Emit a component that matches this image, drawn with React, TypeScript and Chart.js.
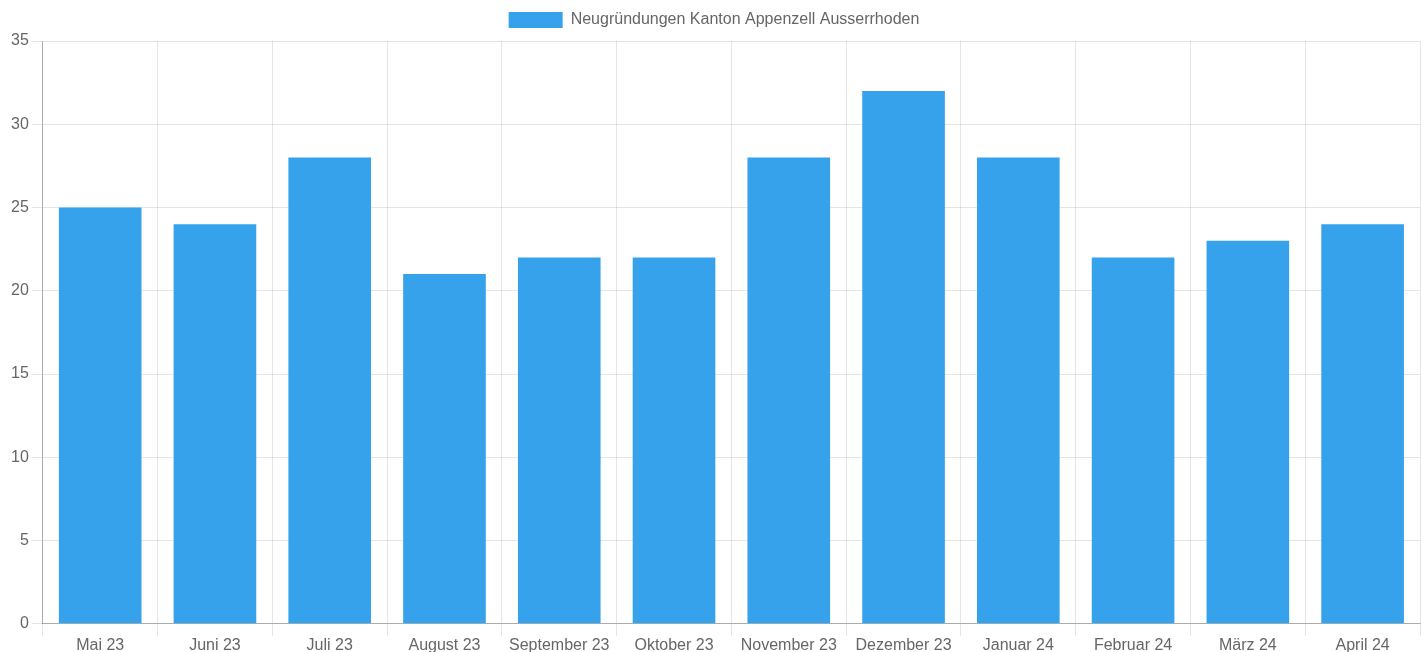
import React, { useEffect, useRef } from "react";
import { Chart, registerables } from "chart.js";

Chart.register(...registerables);

const categories = [
  "Mai 23", "Juni 23", "Juli 23", "August 23", "September 23", "Oktober 23",
  "November 23", "Dezember 23", "Januar 24", "Februar 24", "März 24", "April 24",
];
const seriesLabel = "Neugründungen Kanton Appenzell Ausserrhoden";
const seriesValues = [25, 24, 28, 21, 22, 22, 28, 32, 28, 22, 23, 24];

const legendMargin = {
  id: "legendMargin",
  beforeInit(chart: any) {
    const legend = chart.legend;
    if (!legend) return;
    const origFit = legend.fit;
    legend.fit = function () {
      origFit.call(this);
      this.height += 3;
    };
  },
};

export default function App() {
  const ref = useRef<HTMLCanvasElement | null>(null);

  useEffect(() => {
    document.body.style.margin = "0";
    if (!ref.current) return;
    const font = { family: '"Helvetica Neue", Helvetica, Arial, "Liberation Sans", sans-serif', size: 16 };
    const chart = new Chart(ref.current, {
      type: "bar",
      data: {
        labels: categories,
        datasets: [
          {
            label: seriesLabel,
            data: seriesValues,
            backgroundColor: "rgb(54,162,235)",
            borderColor: "rgb(54,162,235)",
            borderWidth: 0,
          },
        ],
      },
      plugins: [legendMargin],
      options: {
        animation: false,
        responsive: true,
        maintainAspectRatio: false,
        layout: { padding: { right: 6 } },
        plugins: {
          legend: {
            labels: { font, color: "#666", boxWidth: 54, boxHeight: 16, padding: 12 },
          },
          tooltip: { enabled: false },
        },
        scales: {
          x: {
            ticks: { font, color: "#666", padding: 0, maxRotation: 0, autoSkip: false },
            grid: { color: "rgba(0,0,0,0.1)", tickLength: 12 },
            border: { color: "rgba(0,0,0,0.25)" },
          },
          y: {
            min: 0,
            max: 35,
            ticks: { stepSize: 5, font, color: "#666", padding: 3 },
            grid: { color: "rgba(0,0,0,0.1)", tickLength: 11 },
            border: { color: "rgba(0,0,0,0.25)" },
          },
        },
      },
    });
    return () => chart.destroy();
  }, []);

  return (
    <div style={{ position: "absolute", left: 8, top: 0, width: 1418, height: 655 }}>
      <canvas ref={ref} />
    </div>
  );
}
